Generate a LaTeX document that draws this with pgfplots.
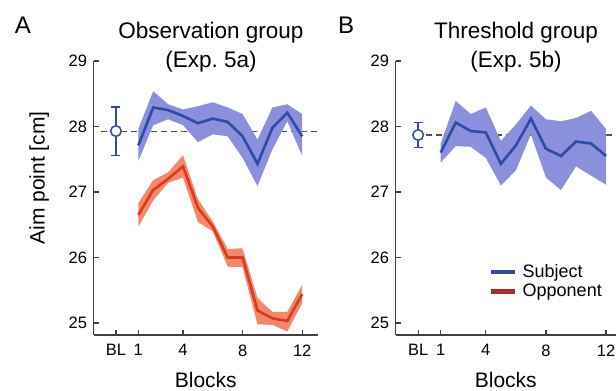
\documentclass[border=0pt]{standalone}
\usepackage{pgfplots}
\pgfplotsset{compat=1.18}
\usepackage{pgfplotstable}
\usepackage{fontspec}
\setmainfont{Liberation Sans}

\definecolor{subjline}{HTML}{2E4BA5}
\definecolor{subjband}{HTML}{8A90DB}
\definecolor{oppline}{HTML}{DA3A20}
\definecolor{oppband}{HTML}{F5886A}
\definecolor{opplegend}{HTML}{B5282B}
\definecolor{axgray}{HTML}{404040}
\definecolor{dashgray}{HTML}{505050}

% mean values per block
\pgfplotstableread{
k mean
1 27.71
2 28.29
3 28.25
4 28.16
5 28.05
6 28.12
7 28.07
8 27.85
9 27.43
10 27.98
11 28.21
12 27.85
}\subA
\pgfplotstableread{
k mean
1 26.65
2 27.03
3 27.20
4 27.39
5 26.76
6 26.47
7 26.00
8 26.00
9 25.19
10 25.07
11 25.03
12 25.44
}\oppA
\pgfplotstableread{
k mean
1 27.60
2 28.06
3 27.93
4 27.91
5 27.43
6 27.71
7 28.12
8 27.66
9 27.55
10 27.77
11 27.74
12 27.55
}\subB

% band outlines: upper edge forward, lower edge backward
\pgfplotstableread{
k v
1 27.96
2 28.54
3 28.34
4 28.26
5 28.31
6 28.37
7 28.29
8 28.19
9 27.80
10 28.29
11 28.34
12 28.19
12 27.55
11 28.08
10 27.65
9 27.09
8 27.52
7 27.85
6 27.88
5 27.76
4 28.02
3 28.11
2 28.02
1 27.47
}\subAband
\pgfplotstableread{
k v
1 26.83
2 27.18
3 27.30
4 27.56
5 26.89
6 26.55
7 26.13
8 26.14
9 25.38
10 25.17
11 25.17
12 25.58
12 25.30
11 24.87
10 24.97
9 24.98
8 25.85
7 25.86
6 26.40
5 26.54
4 27.22
3 27.14
2 26.87
1 26.47
}\oppAband
\pgfplotstableread{
k v
1 27.74
2 28.39
3 28.19
4 28.29
5 27.78
6 28.03
7 28.32
8 28.11
9 28.08
10 28.13
11 28.24
12 27.96
12 27.11
11 27.25
10 27.39
9 27.03
8 27.22
7 27.88
6 27.33
5 27.10
4 27.52
3 27.69
2 27.70
1 27.45
}\subBband

\newcommand{\ticksize}{\fontsize{16.5bp}{19bp}\selectfont}
\newcommand{\labsize}{\fontsize{21bp}{24bp}\selectfont}
\newcommand{\titsize}{\fontsize{22.5bp}{29bp}\selectfont}

\pgfplotsset{
  panel/.style={
    scale only axis,
    axis lines=left,
    axis line style={-, draw=axgray, line width=1.3bp},
    tick style={draw=axgray, line width=1.3bp},
    major tick length=5bp,
    tick align=inside,
    height=274bp,
    ymin=24.816, ymax=29,
    ytick={25,26,27,28,29},
    xmin=-2,
    xtick={-0.5,1,4,8,12},
    xticklabels={BL,1,4,8,12},
    /pgf/number format/assume math mode=true,
    tick label style={font=\ticksize, text=black},
    xticklabel style={yshift=-6bp},
    yticklabel style={xshift=-3bp},
    xlabel={Blocks},
    xlabel style={font=\labsize, at={(axis description cs:0.5,-0.164)}, anchor=center},
  },
}

\begin{document}
\begin{tikzpicture}
\useasboundingbox (0,0) rectangle (616bp,391bp);

% Panel A
\begin{axis}[panel,
  at={(93.6bp,56bp)}, anchor=south west,
  width=224.4bp, xmax=13.06,
  ylabel={Aim point [cm]},
  ylabel style={font=\labsize, at={(axis description cs:-0.243,0.573)}, anchor=center},
]
\addplot[dashgray, line width=1.1bp, dash pattern=on 6bp off 4bp, forget plot] coordinates {(-1.5,27.93) (13.06,27.93)};
\addplot[fill=oppband, draw=none, forget plot] table[x=k,y=v]{\oppAband};
\addplot[oppline, line width=2.6bp, forget plot] table[x=k,y=mean]{\oppA};
\addplot[fill=subjband, draw=none, forget plot] table[x=k,y=v]{\subAband};
\addplot[subjline, line width=2.6bp, forget plot] table[x=k,y=mean]{\subA};
\addplot[subjline, line width=1.5bp, forget plot] coordinates {(-0.5,27.56) (-0.5,28.30)};
\addplot[only marks, mark=-, mark size=4.5bp, forget plot,
  mark options={draw=subjline, line width=1.5bp}]
  coordinates {(-0.5,27.56) (-0.5,28.30)};
\addplot[only marks, mark=*, mark size=5.3bp, forget plot,
  mark options={fill=white, draw=subjline, line width=1.5bp}]
  coordinates {(-0.5,27.93)};
\end{axis}

% Panel B
\begin{axis}[panel,
  at={(395.6bp,56bp)}, anchor=south west,
  width=220.4bp, xmax=12.66,
  legend style={draw=none, fill=none, inner sep=0pt,
    at={(0.4238,0.195)}, anchor=west,
    font=\fontsize{18bp}{20bp}\selectfont,
    row sep=1bp,
    nodes={inner xsep=5bp}},
  legend cell align=left,
  legend image code/.code={\draw[#1] (0bp,0bp) -- (24bp,0bp);},
]
\addplot[dashgray, line width=1.1bp, dash pattern=on 6bp off 4bp, forget plot] coordinates {(0,27.87) (12.66,27.87)};
\addplot[fill=subjband, draw=none, forget plot] table[x=k,y=v]{\subBband};
\addplot[subjline, line width=2.6bp, forget plot] table[x=k,y=mean]{\subB};
\addplot[subjline, line width=1.5bp, forget plot] coordinates {(-0.5,27.68) (-0.5,28.06)};
\addplot[only marks, mark=-, mark size=4.5bp, forget plot,
  mark options={draw=subjline, line width=1.5bp}]
  coordinates {(-0.5,27.68) (-0.5,28.06)};
\addplot[only marks, mark=*, mark size=5.3bp, forget plot,
  mark options={fill=white, draw=subjline, line width=1.5bp}]
  coordinates {(-0.5,27.87)};
\addlegendimage{subjline, line width=4.5bp}
\addlegendentry{Subject}
\addlegendimage{opplegend, line width=4.5bp}
\addlegendentry{Opponent}
\end{axis}

% Titles and panel letters
\node[font=\titsize, align=center] at (211bp,344bp) {Observation group\\(Exp.\ 5a)};
\node[font=\titsize, align=center] at (516bp,344bp) {Threshold group\\(Exp.\ 5b)};
\node[font=\fontsize{24bp}{26bp}\selectfont] at (23bp,366bp) {A};
\node[font=\fontsize{24bp}{26bp}\selectfont] at (346bp,366bp) {B};
\end{tikzpicture}
\end{document}
